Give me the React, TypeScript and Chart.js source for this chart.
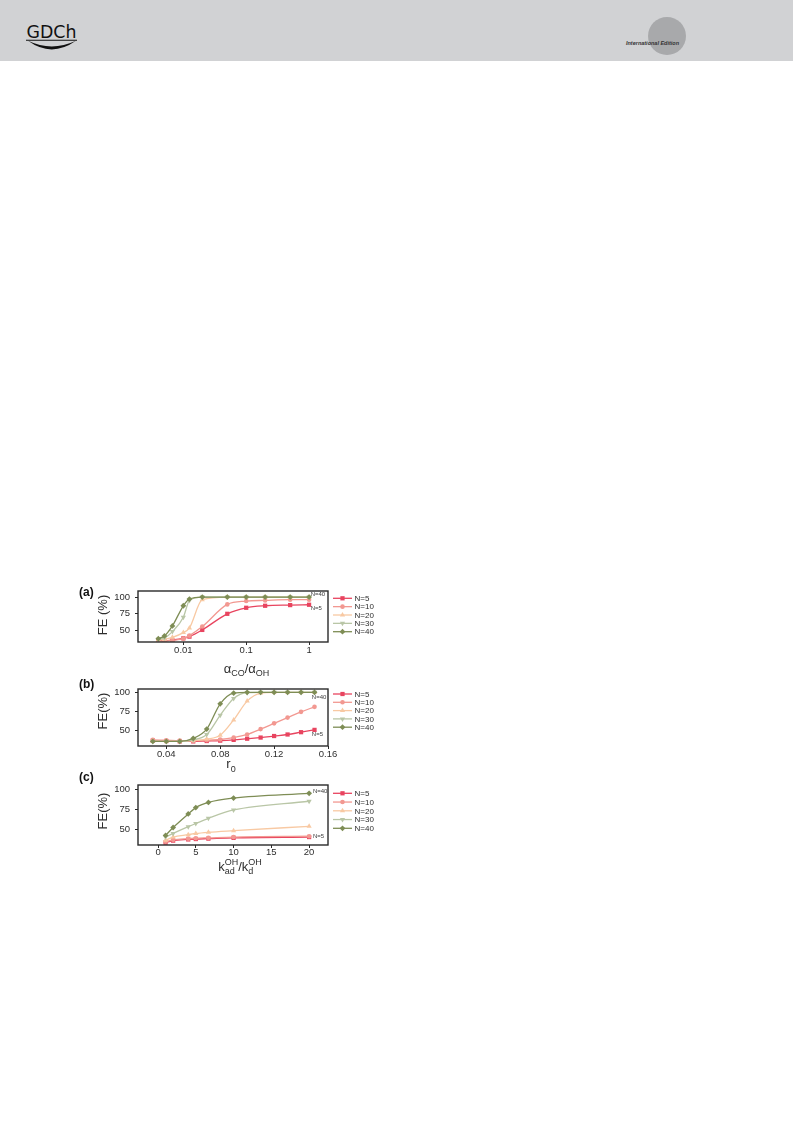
import React, { useEffect, useRef } from 'react';
import { Chart, registerables } from 'chart.js';

Chart.register(...registerables);

// ---------------- data ----------------
const seriesLabels = ['N=5', 'N=10', 'N=20', 'N=30', 'N=40'];

// panel (a): FE vs alpha_CO / alpha_OH (log axis)
const alphaRatio = [0.004, 0.005, 0.0067, 0.01, 0.0125, 0.02, 0.05, 0.1, 0.2, 0.5, 1];
const feA_N5 = [35, 35, 36, 38.5, 41, 51, 75, 84, 87, 88, 88.5];
const feA_N10 = [34, 34.5, 35.5, 38, 42.5, 56, 89, 94, 95, 96, 96];
const feA_N20 = [36, 37, 40, 47, 54, 96, 100, 100, 100, 100, 100];
const feA_N30 = [37, 39, 48.5, 70, 95, 100, 100, 100, 100, 100, 100];
const feA_N40 = [38, 42, 57, 87, 97, 100, 100, 100, 100, 100, 100];

// panel (b): FE vs r0
const r0Values = [0.03, 0.04, 0.05, 0.06, 0.07, 0.08, 0.09, 0.1, 0.11, 0.12, 0.13, 0.14, 0.15];
const feB_N5 = [37, 36.5, 36, 36, 36.5, 37, 38, 39.5, 41, 43, 45, 48, 51];
const feB_N10 = [38, 37.5, 37, 37, 37.5, 38.5, 41, 45, 52, 59.5, 67, 74.5, 81];
const feB_N20 = [36.5, 36, 36, 37, 39, 44, 64, 88.5, 99, 100, 100, 100, 100];
const feB_N30 = [36, 36, 36, 38, 45, 70, 92, 99.5, 100, 100, 100, 100, 100];
const feB_N40 = [36, 36, 36, 40, 52, 85, 99, 100, 100, 100, 100, 100, 100];

// panel (c): FE vs k_ad^OH / k_d^OH
const kRatio = [1, 2, 4, 5, 6.67, 10, 20];
const feC_N5 = [33, 35.5, 37, 37.5, 38, 39, 40];
const feC_N10 = [34, 36.5, 38, 38.5, 39, 40, 41];
const feC_N20 = [36, 40, 43, 44.5, 46, 48, 53.5];
const feC_N30 = [40, 44.5, 53, 57, 63.5, 74, 85];
const feC_N40 = [42, 52, 69, 77, 83.5, 89, 95];

// tick labels
const feTicks = [50, 75, 100];
const alphaTicks = [0.01, 0.1, 1];
const r0Ticks = [0.04, 0.08, 0.12, 0.16];
const kTicks = [0, 5, 10, 15, 20];

// ---------------- styles ----------------
const FONT = '"Liberation Sans", Arial, Helvetica, sans-serif';
const COLORS = ['#e8445f', '#f29891', '#f8c9a3', '#b9c6a6', '#7e8d55'];
const POINT_STYLES = ['rect', 'circle', 'triangle', 'triangle', 'rectRot'];
const POINT_ROT = [0, 0, 0, 180, 0];
const POINT_R = [3, 2.3, 3, 3, 2.9];
const TEXT = '#2e2e2e';

const CANVAS_LEFT = 75;
const CANVAS_W = 320;
const AREA_LEFT = 138;
const AREA_RIGHT = 328;

type Seg = { t?: string; sub?: string; sup?: string };
type Note = { text: string; x: number; y: number };
type PanelCfg = {
  key: string;
  label: string;
  labelY: number;
  canvasTop: number;
  canvasHeight: number;
  areaTop: number;
  areaBottom: number;
  xType: 'linear' | 'logarithmic';
  xMin: number;
  xMax: number;
  yMin: number;
  yMax: number;
  xs: number[];
  series: number[][];
  xTicks: number[];
  tickPad: number;
  yTitle: string;
  yTitleY: number;
  xTitle: Seg[];
  xTitleX: number;
  xTitleBase: number;
  subDy: number;
  supDy: number;
  legendTop: number;
  legendGap: number;
  notes: Note[];
};

const panels: PanelCfg[] = [
  {
    key: 'a', label: '(a)', labelY: 593,
    canvasTop: 575, canvasHeight: 105, areaTop: 591, areaBottom: 642,
    xType: 'logarithmic', xMin: 0.0019, xMax: 2, yMin: 33, yMax: 109,
    xs: alphaRatio, series: [feA_N5, feA_N10, feA_N20, feA_N30, feA_N40], xTicks: alphaTicks, tickPad: 1,
    yTitle: 'FE (%)', yTitleY: 615,
    xTitle: [{ t: 'α' }, { sub: 'CO' }, { t: '/α' }, { sub: 'OH' }],
    xTitleX: 246.5, xTitleBase: 672.5, subDy: 3, supDy: -6,
    legendTop: 598.3, legendGap: 8.35,
    notes: [{ text: 'N=40', x: 1.06, y: 104.5 }, { text: 'N=5', x: 1.06, y: 83.5 }],
  },
  {
    key: 'b', label: '(b)', labelY: 684.5,
    canvasTop: 672, canvasHeight: 105, areaTop: 689, areaBottom: 746,
    xType: 'linear', xMin: 0.019, xMax: 0.16, yMin: 30, yMax: 104.3,
    xs: r0Values, series: [feB_N5, feB_N10, feB_N20, feB_N30, feB_N40], xTicks: r0Ticks, tickPad: 1,
    yTitle: 'FE(%)', yTitleY: 711,
    xTitle: [{ t: 'r' }, { sub: '0' }],
    xTitleX: 231, xTitleBase: 768, subDy: 3.5, supDy: -6,
    legendTop: 694, legendGap: 8.3,
    notes: [{ text: 'N=40', x: 0.148, y: 94 }, { text: 'N=5', x: 0.148, y: 45.5 }],
  },
  {
    key: 'c', label: '(c)', labelY: 777.5,
    canvasTop: 767, canvasHeight: 110, areaTop: 785, areaBottom: 845,
    xType: 'linear', xMin: -2.65, xMax: 22.5, yMin: 30, yMax: 105.4,
    xs: kRatio, series: [feC_N5, feC_N10, feC_N20, feC_N30, feC_N40], xTicks: kTicks, tickPad: 0,
    yTitle: 'FE(%)', yTitleY: 811,
    xTitle: [{ t: 'k' }, { sub: 'ad', sup: 'OH' }, { t: '/k' }, { sub: 'd', sup: 'OH' }],
    xTitleX: 240, xTitleBase: 870.5, subDy: 3, supDy: -5.5,
    legendTop: 793.3, legendGap: 8.75,
    notes: [{ text: 'N=40', x: 20.5, y: 97.5 }, { text: 'N=5', x: 20.5, y: 40.5 }],
  },
];

function drawMarker(ctx: CanvasRenderingContext2D, style: string, rot: number, x: number, y: number, r: number, color: string) {
  ctx.fillStyle = color;
  ctx.beginPath();
  if (style === 'rect') {
    const s = r * Math.SQRT1_2;
    ctx.rect(x - s, y - s, 2 * s, 2 * s);
  } else if (style === 'circle') {
    ctx.arc(x, y, r, 0, Math.PI * 2);
  } else if (style === 'triangle') {
    const d = rot === 180 ? -1 : 1;
    ctx.moveTo(x, y - d * r);
    ctx.lineTo(x + r * 0.866, y + d * r * 0.5);
    ctx.lineTo(x - r * 0.866, y + d * r * 0.5);
    ctx.closePath();
  } else {
    ctx.moveTo(x, y - r);
    ctx.lineTo(x + r, y);
    ctx.lineTo(x, y + r);
    ctx.lineTo(x - r, y);
    ctx.closePath();
  }
  ctx.fill();
}

function drawRich(ctx: CanvasRenderingContext2D, segs: Seg[], cx: number, base: number, subDy: number, supDy: number) {
  const mf = `13px ${FONT}`;
  const sf = `9px ${FONT}`;
  const widths = segs.map((s) => {
    if (s.t) { ctx.font = mf; return ctx.measureText(s.t).width; }
    ctx.font = sf;
    return Math.max(s.sub ? ctx.measureText(s.sub).width : 0, s.sup ? ctx.measureText(s.sup).width : 0);
  });
  const total = widths.reduce((a, b) => a + b, 0);
  let x = cx - total / 2;
  ctx.textAlign = 'left';
  ctx.textBaseline = 'alphabetic';
  segs.forEach((s, i) => {
    if (s.t) { ctx.font = mf; ctx.fillText(s.t, x, base); }
    else {
      ctx.font = sf;
      if (s.sub) ctx.fillText(s.sub, x, base + subDy);
      if (s.sup) ctx.fillText(s.sup, x, base + supDy);
    }
    x += widths[i];
  });
}

function makeDecor(p: PanelCfg) {
  return {
    id: 'decor_' + p.key,
    afterDatasetsDraw(chart: any) {
      const { ctx, chartArea: ca } = chart;
      ctx.save();
      ctx.strokeStyle = '#2a2a2a';
      ctx.lineWidth = 1.4;
      ctx.strokeRect(ca.left, ca.top, ca.right - ca.left, ca.bottom - ca.top);
      ctx.restore();
    },
    afterDraw(chart: any) {
      const ctx: CanvasRenderingContext2D = chart.ctx;
      const oy = p.canvasTop;
      const ox = CANVAS_LEFT;
      ctx.save();
      // annotations
      ctx.fillStyle = '#3a3a3a';
      ctx.font = `6px ${FONT}`;
      ctx.textAlign = 'left';
      ctx.textBaseline = 'middle';
      p.notes.forEach((n) => {
        ctx.fillText(n.text, chart.scales.x.getPixelForValue(n.x), chart.scales.y.getPixelForValue(n.y));
      });
      // legend
      p.series.forEach((_, i) => {
        const y = p.legendTop - oy + i * p.legendGap;
        ctx.strokeStyle = COLORS[i];
        ctx.lineWidth = 1.3;
        ctx.beginPath();
        ctx.moveTo(333 - ox, y);
        ctx.lineTo(352 - ox, y);
        ctx.stroke();
        drawMarker(ctx, POINT_STYLES[i], POINT_ROT[i], 342.5 - ox, y, POINT_R[i], COLORS[i]);
        ctx.fillStyle = TEXT;
        ctx.font = `8px ${FONT}`;
        ctx.textAlign = 'left';
        ctx.textBaseline = 'middle';
        ctx.fillText(seriesLabels[i], 354.5 - ox, y + 0.5);
      });
      // panel label
      ctx.fillStyle = '#111';
      ctx.font = `bold 12px ${FONT}`;
      ctx.textAlign = 'left';
      ctx.textBaseline = 'middle';
      ctx.fillText(p.label, 79 - ox, p.labelY - oy);
      // y title
      ctx.save();
      ctx.translate(103 - ox, p.yTitleY - oy);
      ctx.rotate(-Math.PI / 2);
      ctx.fillStyle = TEXT;
      ctx.font = `13px ${FONT}`;
      ctx.textAlign = 'center';
      ctx.textBaseline = 'middle';
      ctx.fillText(p.yTitle, 0, 0);
      ctx.restore();
      // x title
      ctx.fillStyle = TEXT;
      drawRich(ctx, p.xTitle, p.xTitleX - ox, p.xTitleBase - oy, p.subDy, p.supDy);
      ctx.restore();
    },
  };
}

function Panel({ p }: { p: PanelCfg }) {
  const ref = useRef<HTMLCanvasElement>(null);
  useEffect(() => {
    const canvas = ref.current;
    if (!canvas) return;
    const padTop = p.areaTop - p.canvasTop;
    const padRight = CANVAS_LEFT + CANVAS_W - AREA_RIGHT;
    const yWidth = AREA_LEFT - CANVAS_LEFT;
    const xHeight = p.canvasHeight - (p.areaBottom - p.canvasTop);
    const tickFont = { family: FONT, size: 9.5, lineHeight: 1 };
    const chart = new Chart(canvas, {
      type: 'line',
      data: {
        datasets: p.series.map((ys, i) => ({
          label: seriesLabels[i],
          data: p.xs.map((xv, j) => ({ x: xv, y: ys[j] })),
          borderColor: COLORS[i],
          backgroundColor: COLORS[i],
          borderWidth: 1.3,
          pointStyle: POINT_STYLES[i] as any,
          pointRotation: POINT_ROT[i],
          pointRadius: POINT_R[i],
          pointBorderWidth: 0,
          pointBackgroundColor: COLORS[i],
          cubicInterpolationMode: 'monotone' as const,
          tension: 0.4,
          order: 4 - i,
        })),
      },
      options: {
        animation: false,
        responsive: false,
        maintainAspectRatio: false,
        devicePixelRatio: 1,
        events: [],
        layout: { padding: { left: 0, right: padRight, top: padTop, bottom: 0 } },
        plugins: { legend: { display: false }, tooltip: { enabled: false } },
        scales: {
          x: {
            type: p.xType,
            min: p.xMin,
            max: p.xMax,
            afterBuildTicks: (s: any) => { s.ticks = p.xTicks.map((v) => ({ value: v })); },
            afterFit: (s: any) => { s.height = xHeight; },
            grid: { display: true, drawOnChartArea: false, drawTicks: true, tickLength: 3, tickColor: '#2a2a2a', tickWidth: 1 },
            border: { display: false },
            ticks: {
              font: tickFont, color: TEXT, padding: p.tickPad, maxRotation: 0, autoSkip: false,
              callback: (v: any) => String(v),
            },
          } as any,
          y: {
            type: 'linear',
            min: p.yMin,
            max: p.yMax,
            afterBuildTicks: (s: any) => { s.ticks = feTicks.map((v) => ({ value: v })); },
            afterFit: (s: any) => { s.width = yWidth; },
            grid: { display: true, drawOnChartArea: false, drawTicks: true, tickLength: 3, tickColor: '#2a2a2a', tickWidth: 1 },
            border: { display: false },
            ticks: { font: tickFont, color: TEXT, padding: 5, callback: (v: any) => String(v) },
          },
        },
      },
      plugins: [makeDecor(p)],
    });
    return () => chart.destroy();
  }, [p]);
  return (
    <canvas
      ref={ref}
      width={CANVAS_W}
      height={p.canvasHeight}
      style={{ position: 'absolute', left: CANVAS_LEFT, top: p.canvasTop, width: CANVAS_W, height: p.canvasHeight }}
    />
  );
}

function Header() {
  return (
    <svg width={793} height={62} style={{ position: 'absolute', left: 0, top: 0 }}>
      <rect x={0} y={0} width={793} height={61} fill="#d1d2d4" />
      <text x={26.5} y={38} fontFamily='"DejaVu Sans Condensed", "DejaVu Sans", sans-serif' fontSize={18} fill="#111" textLength={50} lengthAdjust="spacingAndGlyphs">GDCh</text>
      <line x1={26} y1={40.3} x2={77} y2={40.3} stroke="#111" strokeWidth={1.1} />
      <path d="M28 40.8 Q51.5 58 76 40.8 Q51.5 52 28 40.8 Z" fill="#111" />
      <circle cx={667} cy={36} r={19} fill="#a8a9ab" />
      <text x={626} y={45} fontFamily={FONT} fontSize={5.4} fontWeight="bold" fontStyle="italic" fill="#333" textLength={53} lengthAdjust="spacingAndGlyphs">International Edition</text>
    </svg>
  );
}

export default function App() {
  return (
    <div style={{ position: 'absolute', left: 0, top: 0, width: 793, height: 1121, background: '#fff' }}>
      <Header />
      {panels.map((p) => (
        <Panel key={p.key} p={p} />
      ))}
    </div>
  );
}
